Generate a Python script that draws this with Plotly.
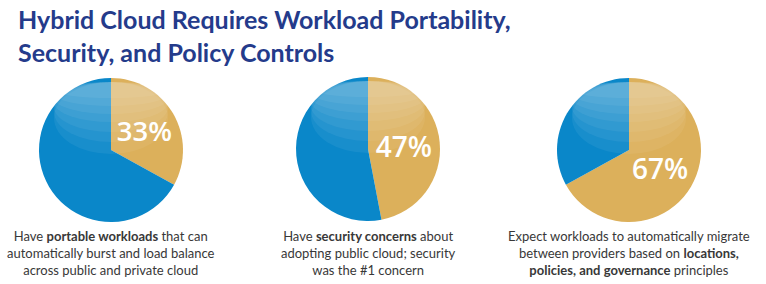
import plotly.graph_objects as go

# ---- data ----
categories = ["Yes", "Other"]
values_portable = [33, 67]
values_security = [47, 53]
values_migrate = [67, 33]
pct_labels = ["33%", "47%", "67%"]
captions = [
    "Have <b>portable workloads</b> that can<br>automatically burst and load balance<br>across public and private cloud",
    "Have <b>security concerns</b> about<br>adopting public cloud; security<br>was the #1 concern",
    "Expect workloads to automatically migrate<br>between providers based on <b>locations,</b><br><b>policies, and governance</b> principles",
]
title_text = "Hybrid Cloud Requires Workload Portability,<br>Security, and Policy Controls"

# ---- style ----
W, H = 766, 284
GOLD = "#dcb05b"
BLUE = "#0a87c9"
TITLE_C = "#243b8b"
CAP_C = "#383838"
centers_px = [(111, 150), (368, 149), (629, 150)]
R = 72

fig = go.Figure()
series = [values_portable, values_security, values_migrate]
for i, vals in enumerate(series):
    cx, cy = centers_px[i]
    fig.add_trace(go.Pie(
        labels=categories,
        values=vals,
        sort=False,
        direction="clockwise",
        rotation=0,
        marker=dict(colors=[GOLD, BLUE], line=dict(width=0)),
        texttemplate=[pct_labels[i], ""],
        textposition="inside",
        insidetextorientation="horizontal",
        textfont=dict(family="Open Sans", size=28, color="white", weight=600),
        hoverinfo="skip",
        showlegend=False,
        domain=dict(x=[(cx - R) / W, (cx + R) / W],
                    y=[(H - cy - R) / H, (H - cy + R) / H]),
    ))

# soft glossy highlight near the top of each pie
shapes = []
for cx, cy in centers_px:
    top = cy - R + 4
    for h in [16, 24, 32, 40, 50, 60, 72]:
        shapes.append(dict(type="circle", xref="paper", yref="paper",
                           x0=(cx - 57) / W, x1=(cx + 57) / W,
                           y0=(H - top - h) / H, y1=(H - top) / H,
                           fillcolor="rgba(255,255,255,0.06)", line=dict(width=0),
                           layer="above"))

annotations = []
for i, cap in enumerate(captions):
    cx, cy = centers_px[i]
    annotations.append(dict(
        text=cap, xref="paper", yref="paper",
        x=cx / W, y=(H - 226) / H, xanchor="center", yanchor="top",
        showarrow=False, align="center",
        font=dict(family="Lato", size=13, color=CAP_C),
    ))
annotations.append(dict(
    text=title_text, xref="paper", yref="paper", x=16 / W, y=1 - 2 / H,
    xanchor="left", yanchor="top", showarrow=False, align="left",
    font=dict(family="Lato", size=25, color=TITLE_C, weight=700),
))

fig.update_layout(
    width=W, height=H,
    margin=dict(l=0, r=0, t=0, b=0),
    paper_bgcolor="white", plot_bgcolor="white",
    shapes=shapes, annotations=annotations,
)
fig.write_html("out.html")
